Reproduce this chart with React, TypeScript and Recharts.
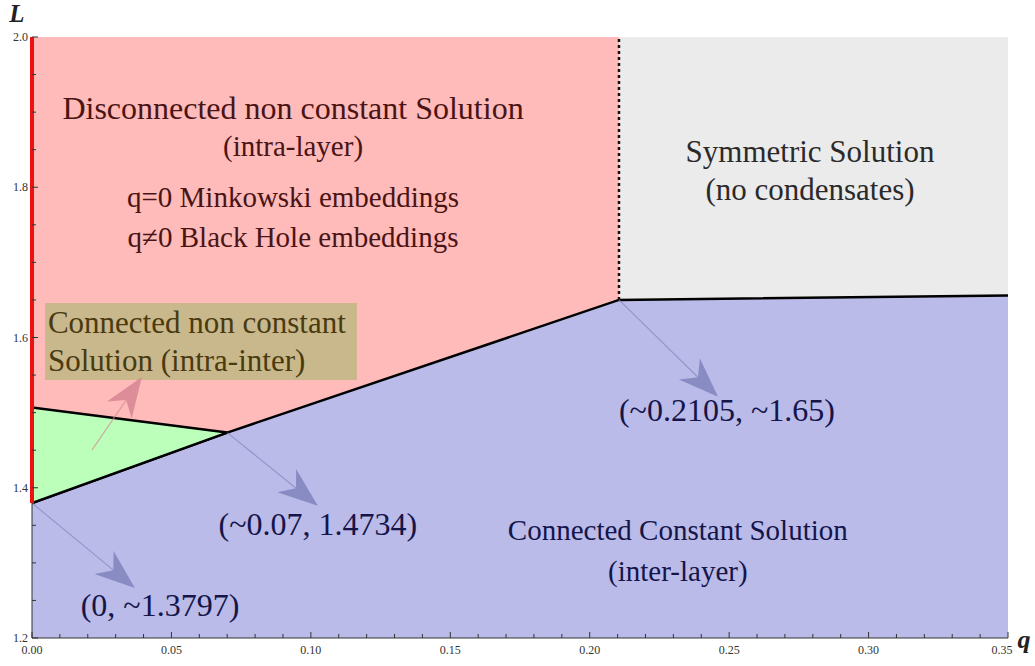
import React from 'react';
import {
  ComposedChart,
  Area,
  XAxis,
  YAxis,
  ReferenceArea,
  ReferenceLine,
  ReferenceDot,
} from 'recharts';

// --- phase boundaries ---
const qPoints = [0, 0.07, 0.2105, 0.35];
const lowerBoundary = [1.3797, 1.4734, 1.65, 1.656];
const greenUpper = [1.507, 1.4734, null, null];

const qMax = 0.35;
const lMin = 1.2;
const lMax = 2.0;
const qTransition = 0.2105;
const lTransition = 1.65;

const xTicks = [
  0, 0.01, 0.02, 0.03, 0.04, 0.05, 0.06, 0.07, 0.08, 0.09, 0.1, 0.11, 0.12,
  0.13, 0.14, 0.15, 0.16, 0.17, 0.18, 0.19, 0.2, 0.21, 0.22, 0.23, 0.24, 0.25,
  0.26, 0.27, 0.28, 0.29, 0.3, 0.31, 0.32, 0.33, 0.34, 0.35,
];
const yTicks = [
  1.2, 1.25, 1.3, 1.35, 1.4, 1.45, 1.5, 1.55, 1.6, 1.65, 1.7, 1.75, 1.8, 1.85,
  1.9, 1.95, 2.0,
];

// label box "Connected non constant Solution"
const boxQ = [0.0047, 0.1165];
const boxL = [1.5435, 1.646];

// arrows: from -> to (data coords)
const arrowFromQ = [0, 0.07, 0.2105, 0.0215];
const arrowFromL = [1.3797, 1.4734, 1.65, 1.45];
const arrowToQ = [0.0369, 0.1025, 0.246, 0.0394];
const arrowToL = [1.2666, 1.376, 1.521, 1.5475];
const arrowColors = ['#8486bf', '#8486bf', '#8486bf', '#d88893'];

// annotations
const noteTexts = [
  'Disconnected non constant Solution',
  '(intra-layer)',
  'q=0 Minkowski embeddings',
  'q\u22600 Black Hole embeddings',
  'Symmetric Solution',
  '(no condensates)',
  'Connected non constant',
  'Solution (intra-inter)',
  '(~0.2105, ~1.65)',
  'Connected Constant Solution',
  '(inter-layer)',
  '(~0.07, 1.4734)',
  '(0, ~1.3797)',
];
const noteQ = [0.0936, 0.0936, 0.0936, 0.0936, 0.279, 0.279, 0.0057, 0.0057, 0.2492, 0.2316, 0.2316, 0.1025, 0.0459];
const noteL = [1.9057, 1.855, 1.787, 1.734, 1.847, 1.7965, 1.6194, 1.57, 1.5036, 1.3438, 1.2892, 1.3518, 1.2439];
const noteSize = [32, 29, 29, 29, 31, 31, 31, 31, 32, 29, 29, 32, 32];
const noteAnchor = ['middle', 'middle', 'middle', 'middle', 'middle', 'middle', 'start', 'start', 'middle', 'middle', 'middle', 'middle', 'middle'];
const noteColor = ['#4a1414', '#4a1414', '#4a1414', '#4a1414', '#2a2a2a', '#2a2a2a', '#4a3a10', '#4a3a10', '#15154a', '#15154a', '#15154a', '#15154a', '#15154a'];

const chartData = qPoints.map((q, i) => ({
  q,
  connected: lowerBoundary[i],
  intra: greenUpper[i] != null ? [lowerBoundary[i], greenUpper[i]] : null,
}));

const FONT = '"Liberation Serif", "DejaVu Serif", serif';

const isMajorX = (v: number) => Math.abs(v * 20 - Math.round(v * 20)) < 1e-6;
const isMajorY = (v: number) => Math.abs(v * 5 - Math.round(v * 5)) < 1e-6;

const XTick = ({ x, y, payload }: any) => {
  const major = isMajorX(payload.value);
  const last = Math.abs(payload.value - qMax) < 1e-6;
  return (
    <g>
      <line x1={x} x2={x} y1={y} y2={y - (major ? 6 : 4)} stroke="#333" strokeWidth={1} />
      {major && (
        <text x={last ? x - 6 : x} y={y + 16} textAnchor="middle" fontSize={12} fontFamily={FONT} fill="#333">
          {payload.value.toFixed(2)}
        </text>
      )}
    </g>
  );
};

const YTick = ({ x, y, payload }: any) => {
  const major = isMajorY(payload.value);
  return (
    <g>
      <line x1={x} x2={x + (major ? 6 : 4)} y1={y} y2={y} stroke="#333" strokeWidth={1} />
      {major && (
        <text x={x - 4} y={y + 4} textAnchor="end" fontSize={12} fontFamily={FONT} fill="#333">
          {payload.value.toFixed(1)}
        </text>
      )}
    </g>
  );
};

// thin shaft plus a notched arrow head
const makeArrow = (color: string) => (props: any) => {
  const { x1, y1, x2, y2 } = props;
  const dx = x2 - x1;
  const dy = y2 - y1;
  const len = Math.sqrt(dx * dx + dy * dy) || 1;
  const ux = dx / len;
  const uy = dy / len;
  const px = -uy;
  const py = ux;
  const headLen = 40;
  const halfW = 15;
  const notch = 28;
  const bx = x2 - ux * headLen;
  const by = y2 - uy * headLen;
  const nx = x2 - ux * notch;
  const ny = y2 - uy * notch;
  const pts = [
    `${x2},${y2}`,
    `${bx + px * halfW},${by + py * halfW}`,
    `${nx},${ny}`,
    `${bx - px * halfW},${by - py * halfW}`,
  ].join(' ');
  return (
    <g>
      <line x1={x1} y1={y1} x2={nx} y2={ny} stroke={color} strokeOpacity={0.7} strokeWidth={1.2} />
      <polygon points={pts} fill={color} fillOpacity={0.9} />
    </g>
  );
};

const makeNote = (text: string, anchor: string, color: string, size: number) => (props: any) => (
  <text
    x={props.cx}
    y={props.cy}
    textAnchor={anchor as any}
    dominantBaseline="central"
    fontSize={size}
    fontFamily={FONT}
    fill={color}
  >
    {text}
  </text>
);

export default function App() {
  return (
    <div style={{ position: 'absolute', left: 0, top: 0, background: '#fff' }}>
      <ComposedChart
        width={1035}
        height={666}
        data={chartData}
        margin={{ top: 37, right: 27, left: 0, bottom: 0 }}
      >
        <XAxis
          type="number"
          dataKey="q"
          domain={[0, qMax]}
          ticks={xTicks}
          interval={0}
          allowDataOverflow
          height={28}
          tickSize={0}
          tickMargin={0}
          tickLine={false}
          tick={<XTick />}
          axisLine={{ stroke: '#333', strokeWidth: 1 }}
          label={{
            content: (p: any) => (
              <text
                x={p.viewBox.x + p.viewBox.width + 16}
                y={p.viewBox.y + 10}
                textAnchor="middle"
                fontSize={26}
                fontStyle="italic"
                fontWeight="bold"
                fontFamily={FONT}
                fill="#222"
              >
                q
              </text>
            ),
          }}
        />
        <YAxis
          type="number"
          domain={[lMin, lMax]}
          ticks={yTicks}
          interval={0}
          allowDataOverflow
          width={32}
          tickSize={0}
          tickMargin={0}
          tickLine={false}
          tick={<YTick />}
          axisLine={{ stroke: '#333', strokeWidth: 1 }}
          label={{
            content: (p: any) => (
              <text
                x={p.viewBox.x + 17}
                y={p.viewBox.y - 15}
                textAnchor="middle"
                fontSize={25}
                fontStyle="italic"
                fontWeight="bold"
                fontFamily={FONT}
                fill="#222"
              >
                L
              </text>
            ),
          }}
        />

        {/* background phases */}
        <ReferenceArea x1={0} x2={qTransition} y1={lMin} y2={lMax} fill="#ffbaba" fillOpacity={1} stroke="none" zIndex={-200} />
        <ReferenceArea x1={qTransition} x2={qMax} y1={lMin} y2={lMax} fill="#ebebeb" fillOpacity={1} stroke="none" zIndex={-200} />

        {/* connected constant (inter-layer) */}
        <Area
          type="linear"
          dataKey="connected"
          baseValue={lMin}
          fill="#babbe9"
          fillOpacity={1}
          stroke="#000"
          strokeWidth={2.5}
          isAnimationActive={false}
          dot={false}
          activeDot={false}
          zIndex={100}
        />
        {/* connected non constant (intra-inter) */}
        <Area
          type="linear"
          dataKey="intra"
          fill="#bbffbb"
          fillOpacity={1}
          stroke="#000"
          strokeWidth={2.5}
          isAnimationActive={false}
          dot={false}
          activeDot={false}
          zIndex={110}
        />

        <ReferenceArea x1={boxQ[0]} x2={boxQ[1]} y1={boxL[0]} y2={boxL[1]} fill="#c8b88b" fillOpacity={1} stroke="none" zIndex={150} />

        {/* red edge at q=0 and dotted transition line */}
        <ReferenceLine
          segment={[{ x: 0, y: lowerBoundary[0] }, { x: 0, y: lMax }]}
          stroke="#ee1111"
          strokeWidth={4}
          zIndex={550}
        />
        <ReferenceLine
          segment={[{ x: qTransition, y: lTransition }, { x: qTransition, y: lMax }]}
          stroke="#111"
          strokeWidth={2.5}
          strokeDasharray="3 3"
          zIndex={420}
        />

        {arrowFromQ.map((q, i) => (
          <ReferenceLine
            key={`arrow-${i}`}
            segment={[{ x: q, y: arrowFromL[i] }, { x: arrowToQ[i], y: arrowToL[i] }]}
            shape={makeArrow(arrowColors[i])}
            zIndex={450}
          />
        ))}

        {noteTexts.map((t, i) => (
          <ReferenceDot
            key={`note-${i}`}
            x={noteQ[i]}
            y={noteL[i]}
            r={0}
            shape={makeNote(t, noteAnchor[i], noteColor[i], noteSize[i])}
            zIndex={600}
          />
        ))}
      </ComposedChart>
    </div>
  );
}
